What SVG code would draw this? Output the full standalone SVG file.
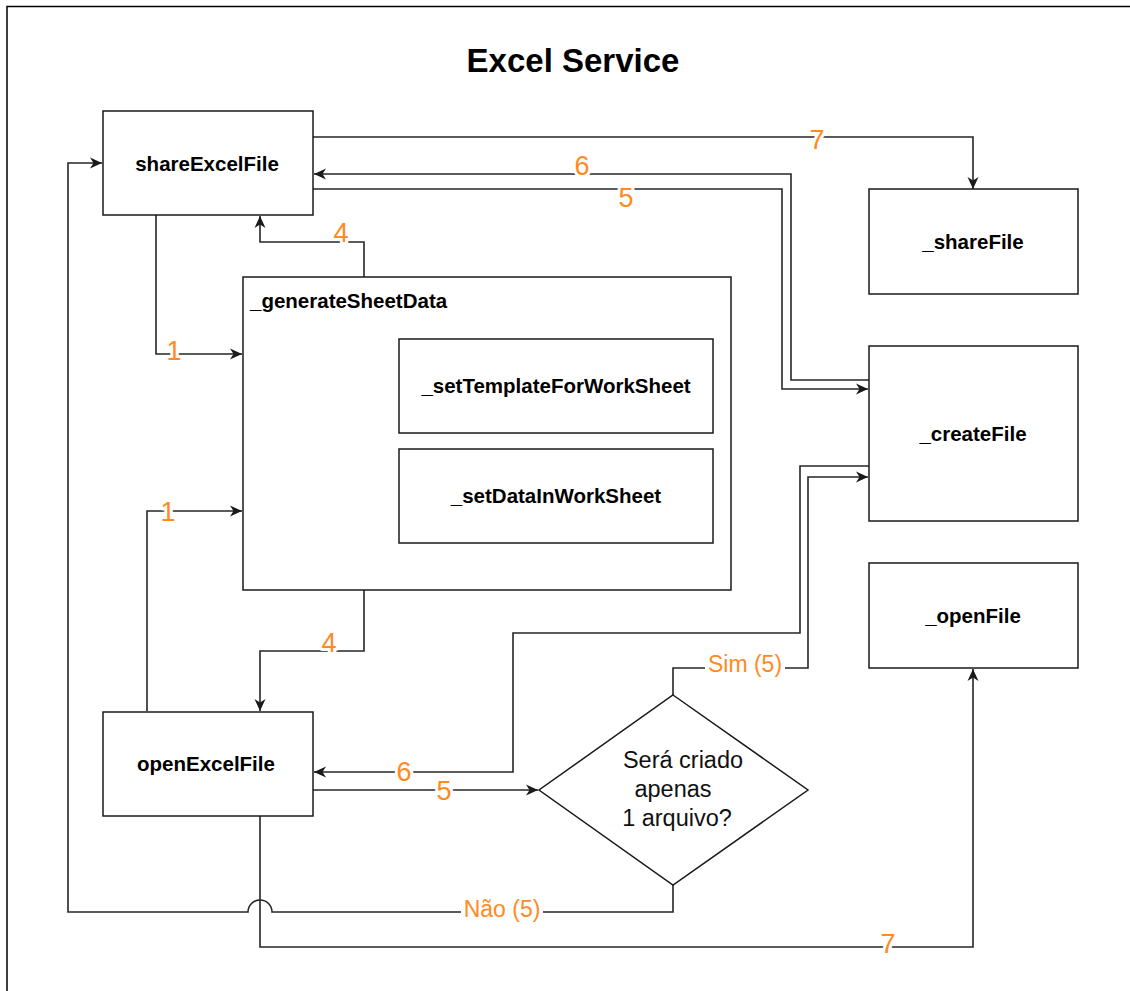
<svg xmlns="http://www.w3.org/2000/svg" width="1130" height="991" viewBox="0 0 1130 991">
<style>
.node{fill:#fff;stroke:#1a1a1a;stroke-width:1.5}
.ntxt{font-family:"Liberation Sans",Arial,sans-serif;font-weight:bold;font-size:20.5px;fill:#000;text-anchor:middle;dominant-baseline:central}
.conn{fill:none;stroke:#262626;stroke-width:1.6}
.lbl{font-family:"Liberation Sans",Arial,sans-serif;font-size:23px;fill:#FF8A1F;text-anchor:middle;dominant-baseline:central;stroke:#fff;stroke-width:6;paint-order:stroke;stroke-linejoin:round}
.num{font-size:27px}
.bg{fill:#fff}
.dtxt{font-family:"Liberation Sans",Arial,sans-serif;font-size:23.5px;fill:#111;text-anchor:middle}
</style>
<defs>
<marker id="arr" markerWidth="13" markerHeight="13" refX="12" refY="6.5" orient="auto" markerUnits="userSpaceOnUse">
<path d="M0,1 L12,6.5 L0,12 L3.5,6.5 Z" fill="#1a1a1a"/>
</marker>
</defs>
<rect x="0" y="0" width="1130" height="991" fill="#fff"/>
<rect x="7" y="6.5" width="1200" height="1100" fill="none" stroke="#000" stroke-width="1.5"/>
<text x="573" y="60" font-family="Liberation Sans, Arial, sans-serif" font-weight="bold" font-size="33px" text-anchor="middle" dominant-baseline="central" fill="#000">Excel Service</text>

<g id="connectors">
<path class="conn" d="M313,137 H973 V189" marker-end="url(#arr)"/>
<path class="conn" d="M869,380 H791 V174 H314" marker-end="url(#arr)"/>
<path class="conn" d="M313,189 H782 V389 H868" marker-end="url(#arr)"/>
<path class="conn" d="M156,215 V354 H242" marker-end="url(#arr)"/>
<path class="conn" d="M243,402 H347 V387 H398" marker-end="url(#arr)"/>
<path class="conn" d="M243,480 H347 V496 H398" marker-end="url(#arr)"/>
<path class="conn" d="M147,711 V511 H242" marker-end="url(#arr)"/>
<path class="conn" d="M364,277 V242 H260 V216" marker-end="url(#arr)"/>
<path class="conn" d="M364,590 V651 H260 V711" marker-end="url(#arr)"/>
<path class="conn" d="M869,466 H800 V633 H513 V772 H314" marker-end="url(#arr)"/>
<path class="conn" d="M313,790 H538" marker-end="url(#arr)"/>
<path class="conn" d="M673,695 V668 H808 V477 H868" marker-end="url(#arr)"/>
<path class="conn" d="M673,885 V912 H272 A12,12 0 0 0 248,912 H68 V163 H102" marker-end="url(#arr)"/>
<path class="conn" d="M260,816 V947 H973 V669" marker-end="url(#arr)"/>

<text class="lbl num" x="817" y="140">7</text>
<text class="lbl num" x="582" y="166">6</text>
<text class="lbl num" x="626" y="198">5</text>
<text class="lbl num" x="341" y="233">4</text>
<text class="lbl num" x="174" y="351">1</text>
<text class="lbl num" x="292" y="404">2</text>
<text class="lbl num" x="293" y="482">3</text>
<text class="lbl num" x="168" y="512">1</text>
<text class="lbl num" x="329" y="643">4</text>
<text class="lbl num" x="404" y="772">6</text>
<text class="lbl num" x="444" y="791">5</text>
<text class="lbl num" x="888" y="944">7</text>
<rect class="bg" x="705" y="652" width="80" height="24"/>
<text class="lbl" x="745" y="664">Sim (5)</text>
<rect class="bg" x="461" y="897" width="82" height="24"/>
<text class="lbl" x="502" y="909">Não (5)</text>
</g>

<g id="shareExcelFile">
<rect class="node" x="103" y="111" width="210" height="104"/>
<text class="ntxt" x="207" y="163">shareExcelFile</text>
</g>
<g id="generateSheetData">
<rect class="node" x="243" y="277" width="488" height="313"/>
<text class="ntxt" x="250" y="300" style="text-anchor:start">_generateSheetData</text>
</g>
<g id="setTemplateForWorkSheet">
<rect class="node" x="399" y="339" width="314" height="94"/>
<text class="ntxt" x="556" y="385">_setTemplateForWorkSheet</text>
</g>
<g id="setDataInWorkSheet">
<rect class="node" x="399" y="449" width="314" height="94"/>
<text class="ntxt" x="556" y="495">_setDataInWorkSheet</text>
</g>
<g id="shareFile">
<rect class="node" x="869" y="189" width="209" height="105"/>
<text class="ntxt" x="973" y="241">_shareFile</text>
</g>
<g id="createFile">
<rect class="node" x="869" y="346" width="209" height="175"/>
<text class="ntxt" x="973" y="433">_createFile</text>
</g>
<g id="openFile">
<rect class="node" x="869" y="563" width="209" height="105"/>
<text class="ntxt" x="973" y="615">_openFile</text>
</g>
<g id="openExcelFile">
<rect class="node" x="103" y="712" width="210" height="104"/>
<text class="ntxt" x="206" y="763">openExcelFile</text>
</g>
<g id="decision">
<polygon class="node" points="673,695 808,790 673,885 539,790"/>
<text class="dtxt" x="683" y="768">Será criado</text>
<text class="dtxt" x="673" y="797">apenas</text>
<text class="dtxt" x="677" y="826">1 arquivo?</text>
</g>
</svg>
